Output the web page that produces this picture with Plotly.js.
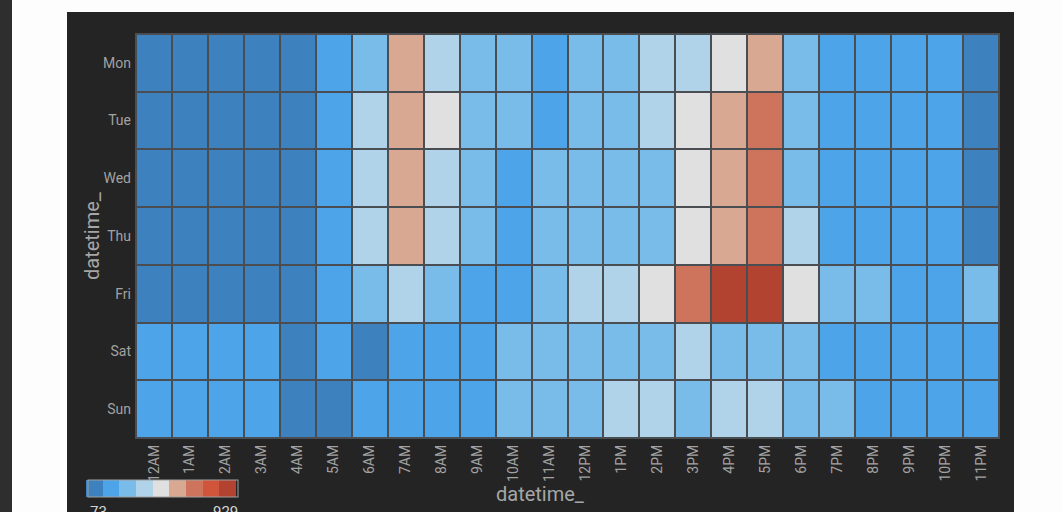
<!DOCTYPE html>
<html>
<head>
<meta charset="utf-8">
<script src="https://cdn.plot.ly/plotly-3.0.1.min.js"></script>
<style>
  html, body { margin: 0; padding: 0; background: #fdfdfd; width: 1063px; height: 512px; overflow: hidden; }
  #strip { position: absolute; left: 0; top: 0; width: 12px; height: 512px; background: #2e2e2e; }
  #chart { position: absolute; left: 67px; top: 12px; width: 947px; height: 500px; }
</style>
</head>
<body>
<div id="strip"></div>
<div id="chart"></div>
<script>
// hour of day (columns) and weekday (rows)
const hours = ['12AM', '1AM', '2AM', '3AM', '4AM', '5AM', '6AM', '7AM', '8AM', '9AM', '10AM', '11AM',
               '12PM', '1PM', '2PM', '3PM', '4PM', '5PM', '6PM', '7PM', '8PM', '9PM', '10PM', '11PM'];
const days = ['Mon', 'Tue', 'Wed', 'Thu', 'Fri', 'Sat', 'Sun'];

// counts per hour, estimated from the colour bins
const mon = [120, 112, 105, 100, 98, 215, 300, 590, 410, 320, 305, 230, 315, 335, 420, 430, 510, 600, 330, 240, 245, 225, 210, 150];
const tue = [130, 118, 108, 102, 99, 220, 400, 610, 500, 330, 315, 240, 320, 340, 415, 505, 615, 700, 325, 235, 240, 230, 220, 160];
const wed = [125, 115, 106, 101, 96, 225, 395, 600, 405, 330, 245, 310, 325, 330, 340, 520, 610, 715, 320, 230, 235, 225, 215, 155];
const thu = [128, 117, 107, 100, 95, 222, 390, 605, 400, 325, 240, 305, 320, 330, 335, 515, 620, 720, 410, 232, 238, 228, 218, 158];
const fri = [126, 114, 105, 99, 94, 218, 320, 410, 315, 245, 250, 310, 400, 420, 530, 700, 929, 910, 490, 300, 295, 240, 235, 290];
const sat = [190, 185, 180, 175, 140, 200, 150, 210, 205, 200, 285, 290, 295, 300, 310, 380, 305, 300, 285, 230, 225, 220, 215, 210];
const sun = [200, 190, 185, 180, 130, 73, 210, 215, 205, 200, 280, 290, 300, 375, 380, 295, 390, 395, 300, 290, 240, 230, 225, 220];

const z = [mon, tue, wed, thu, fri, sat, sun];

// 9-step diverging palette
const palette = ['#3d81bf', '#4ea4e9', '#79bbe9', '#b0d3e9', '#e0e0e0', '#d9a892', '#cf745c', '#d0553a', '#b24330'];

const zAll = z.flat();
const zMin = Math.min(...zAll);
const zMax = Math.max(...zAll);

// stepped colorscale so every bin is one flat colour
const colorscale = [];
palette.forEach((c, i) => {
    colorscale.push([i / palette.length, c]);
    colorscale.push([(i + 1) / palette.length, c]);
});

// page geometry (px inside the chart div)
const W = 947, H = 500;
const M = { l: 69, r: 15, t: 22, b: 74 };
const plotW = W - M.l - M.r, plotH = H - M.t - M.b;
const pxX = px => (px - M.l) / plotW;          // container px -> paper x
const pxY = py => (H - M.b - py) / plotH;      // container px -> paper y

// colour bar box
const barL = 21, barR = 171, barT = 468, barB = 485;

const trace = {
    type: 'heatmap',
    x: hours,
    y: days,
    z: z,
    zmin: zMin,
    zmax: zMax,
    colorscale: colorscale,
    xgap: 2,
    ygap: 2,
    hovertemplate: '%{y} %{x}: %{z}<extra></extra>',
    colorbar: {
        orientation: 'h',
        xref: 'container', yref: 'container',
        x: barL / W, xanchor: 'left',
        y: (H - (barT + barB) / 2) / H, yanchor: 'middle',
        lenmode: 'pixels', len: barR - barL,
        thickness: barB - barT,
        outlinecolor: '#a0a0a0', outlinewidth: 1,
        showticklabels: false,
        ticks: '',
        xpad: 0, ypad: 0,
    },
};

// separators between colour bar swatches
const shapes = [];
for (let i = 1; i < palette.length; i++) {
    const xs = pxX(barL + (barR - barL) * i / palette.length);
    shapes.push({
        type: 'line', xref: 'paper', yref: 'paper',
        x0: xs, x1: xs, y0: pxY(barT + 1), y1: pxY(barB - 1),
        line: { color: '#c4c4c4', width: 1.5 },
    });
}
// outer frame of the grid
shapes.push({
    type: 'rect', xref: 'paper', yref: 'paper',
    x0: 0, x1: 1, y0: 0, y1: 1,
    line: { color: '#4a4d51', width: 2 },
});

const titleFont = { family: 'Roboto, sans-serif', size: 20, color: '#a6a6a6' };

const annotations = [
    {
        text: 'datetime_', xref: 'paper', yref: 'paper',
        x: pxX(473), y: pxY(482), xanchor: 'center', yanchor: 'middle',
        showarrow: false, font: titleFont,
    },
    {
        text: 'datetime_', xref: 'paper', yref: 'paper', textangle: -90,
        x: pxX(25), y: pxY(224), xanchor: 'center', yanchor: 'middle',
        showarrow: false, font: titleFont,
    },
    {
        text: String(zMin), xref: 'paper', yref: 'paper',
        x: pxX(barL), y: pxY(489), xanchor: 'left', yanchor: 'top',
        showarrow: false, font: { family: 'Roboto, sans-serif', size: 15, color: '#d6d6d6' },
    },
    {
        text: String(zMax), xref: 'paper', yref: 'paper',
        x: pxX(barR + 2), y: pxY(489), xanchor: 'right', yanchor: 'top',
        showarrow: false, font: { family: 'Roboto, sans-serif', size: 15, color: '#d6d6d6' },
    },
];

const layout = {
    width: W,
    height: H,
    paper_bgcolor: '#242424',
    plot_bgcolor: '#4a4d51',
    font: { family: 'Roboto, sans-serif', color: '#a0a0a0', size: 14 },
    margin: M,
    xaxis: {
        type: 'category',
        tickangle: -90,
        ticks: '',
        showgrid: false,
        zeroline: false,
        showline: false,
        ticklabelstandoff: 3,
        tickfont: { size: 14, color: '#a2a2a2' },
        fixedrange: true,
    },
    yaxis: {
        type: 'category',
        autorange: 'reversed',
        ticks: '',
        showgrid: false,
        zeroline: false,
        showline: false,
        ticklabelstandoff: 4,
        tickfont: { size: 14, color: '#a2a2a2' },
        fixedrange: true,
    },
    shapes,
    annotations,
    showlegend: false,
};

Plotly.newPlot('chart', [trace], layout, { displayModeBar: false, staticPlot: true });
</script>
</body>
</html>
